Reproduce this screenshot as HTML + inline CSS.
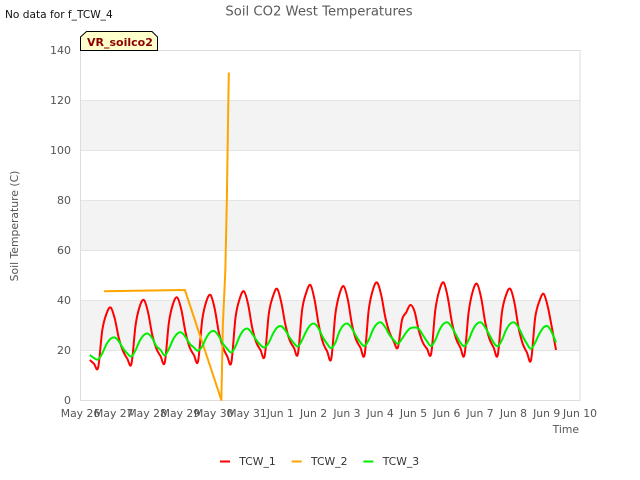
<!DOCTYPE html>
<html>
<head>
<meta charset="utf-8">
<style>
html,body{margin:0;padding:0;background:#fff;}
svg{display:block;font-family:"DejaVu Sans","Liberation Sans",sans-serif;}
</style>
</head>
<body>
<svg id="chart" xmlns="http://www.w3.org/2000/svg" width="640" height="480" viewBox="0 0 640 480">
  <rect width="640" height="480" fill="#ffffff"/>
  <g id="bands"></g>
  <g id="grid"></g>
  <rect x="80.5" y="50.5" width="499.5" height="350" fill="none" stroke="#dddddd" stroke-width="1"/>
  <g id="yticks"></g>
  <g id="xticks"></g>
  <g id="series"></g>
  <text x="319" y="15.5" text-anchor="middle" font-size="13.2px" fill="#5a5a5a">Soil CO2 West Temperatures</text>
  <text x="5" y="18" font-size="10.6px" fill="#111111">No data for f_TCW_4</text>
  <text transform="translate(18 226) rotate(-90)" text-anchor="middle" font-size="10.8px" fill="#555555">Soil Temperature (C)</text>
  <text x="579" y="433" text-anchor="end" font-size="10.8px" fill="#555555">Time</text>
  <g>
    <path d="M80.5 50.5 V37 L86.5 31.5 H152 L157.5 37 V50.5 Z" fill="#ffffcc" stroke="#000000" stroke-width="1"/>
    <text x="87" y="46" font-size="11px" font-weight="bold" fill="#8b0000">VR_soilco2</text>
  </g>
  <g id="legend"></g>
</svg>
<script>
var yTicks = [0, 20, 40, 60, 80, 100, 120, 140];
var xTickLabels = ["May 26","May 27","May 28","May 29","May 30","May 31","Jun 1","Jun 2","Jun 3","Jun 4","Jun 5","Jun 6","Jun 7","Jun 8","Jun 9","Jun 10"];
var bandRanges = [[20, 40], [60, 80], [100, 120]];
var seriesStartDay = 0.28;
var seriesStepDays = 0.125;
var tcw1 = [16,14.5,13,
28,34.5,37,32.5,24.5,19.5,16.5,14.5,
30,37.5,40,35,26,20.5,17.5,15,
31,38.5,41,36,27,21,18,15.5,
32,39.5,42,36.5,27,21,17.5,15,
33,40.5,43.5,38.5,29,23,20,17.5,
34.5,41.5,44.5,39,30,24,21,18.5,
36,43,46,40,30,23,19.5,16.5,
34.5,42.5,45.5,40,30,24,21,18,
36,44,47,42,33,27,23.5,21,
32,35,38,35.5,28,23,20.5,18.5,
36,44,47,41,31,24.5,21,18,
35,43.5,46.5,41,31,24.5,21,18,
35,42,44.5,39,29,22.5,19,16,
33,39.5,42.5,37.5,29,20];
var tcw2Days = [0.705,3.135,4.23,4.275,4.35,4.395,4.44,4.455];
var tcw2 = [43.5,44,0,30,52,80,120,131];
var tcw3 = [18,16.8,16.2,
18.7,22.3,24.5,25,23.4,20.6,18.6,17.4,
20,23.7,26,26.5,24.7,21.5,20,17.8,
20.5,24.2,26.5,27,25.2,22.5,21,19.7,
21.5,25,27.2,27.5,25.5,22.5,20.5,19,
21.5,25.5,28,28.5,26.5,24,22,21,
23,26.5,29,29.5,27.8,25,22.8,21.4,
24,27.5,30,30.5,28.5,25,22.5,20.7,
23,27.5,30,30.5,28.5,25.5,23,21.6,
24,28,30.5,31,29,26,24,22.5,
24.5,27,28.7,29,28.5,26,23.5,21.6,
24,28,30.5,31,29,26,23,21.5,
24,28,30.5,31,29,26,23,21.5,
24,28,30.5,31,29,25.5,22.5,20.5,
23,26.5,29,29.5,27,23];
var legendLabels = ["TCW_1","TCW_2","TCW_3"];
var legendColors = ["#ff0000","#ffa500","#00ee00"];

var NS = "http://www.w3.org/2000/svg";
var plotL = 80.5, plotR = 580, plotT = 50, plotB = 400;
var dayMax = xTickLabels.length - 1;
var valMax = yTicks[yTicks.length - 1];
function xScale(d){ return plotL + (plotR - plotL) * d / dayMax; }
function yScale(v){ return plotB - (plotB - plotT) * v / valMax; }
function make(tag, attrs, parent){
  var el = document.createElementNS(NS, tag);
  for (var k in attrs) el.setAttribute(k, attrs[k]);
  parent.appendChild(el);
  return el;
}
var bandsG = document.getElementById("bands");
bandRanges.forEach(function(r){
  var b = make("rect", {x: plotL, y: yScale(r[1]), width: plotR - plotL, height: yScale(r[0]) - yScale(r[1]), fill: "#f3f3f3"}, bandsG);
  
  
});
var gridG = document.getElementById("grid");
var yG = document.getElementById("yticks");
yTicks.forEach(function(v){
  var y = Math.round(yScale(v)) + 0.5;
  var l = make("line", {x1: plotL, x2: plotR, y1: y, y2: y, stroke: "#e4e4e4", "stroke-width": 1}, gridG);
  
  
  var t = make("text", {x: 71, y: yScale(v) + 4, "text-anchor": "end", "font-size": "11px", fill: "#555555"}, yG);
  
  
  t.textContent = v;
});
var xG = document.getElementById("xticks");
xTickLabels.forEach(function(lbl, i){
  var t = make("text", {x: xScale(i), y: 417, "text-anchor": "middle", "font-size": "10.8px", fill: "#555555"}, xG);
  
  
  t.textContent = lbl;
});
function smoothPath(xs, ys){
  var d = "M" + xs[0].toFixed(2) + " " + ys[0].toFixed(2);
  for (var i = 0; i < xs.length - 1; i++){
    var a = Math.max(i - 1, 0), c = i + 1, e = Math.min(i + 2, xs.length - 1);
    var c1x = xs[i] + (xs[c] - xs[a]) / 6, c1y = ys[i] + (ys[c] - ys[a]) / 6;
    var c2x = xs[c] - (xs[e] - xs[i]) / 6, c2y = ys[c] - (ys[e] - ys[i]) / 6;
    d += "C" + c1x.toFixed(2) + " " + c1y.toFixed(2) + " " + c2x.toFixed(2) + " " + c2y.toFixed(2) + " " + xs[c].toFixed(2) + " " + ys[c].toFixed(2);
  }
  return d;
}
function drawSmooth(vals, color, name, width){
  var xs = vals.map(function(v, i){ return xScale(seriesStartDay + i * seriesStepDays); });
  var ys = vals.map(function(v){ return yScale(v); });
  var p = make("path", {d: smoothPath(xs, ys), fill: "none", stroke: color, "stroke-width": width, "stroke-linejoin": "round"}, document.getElementById("series"));
  
  
}
function drawPoly(days, vals, color, name, width){
  var pts = vals.map(function(v, i){ return xScale(days[i]).toFixed(2) + "," + yScale(v).toFixed(2); }).join(" ");
  var p = make("polyline", {points: pts, fill: "none", stroke: color, "stroke-width": width, "stroke-linejoin": "round"}, document.getElementById("series"));
  
  
}
drawSmooth(tcw1, legendColors[0], "tcw-1-line", 2);
drawPoly(tcw2Days, tcw2, legendColors[1], "tcw-2-line", 2);
drawSmooth(tcw3, legendColors[2], "tcw-3-line", 2);
var legendG = document.getElementById("legend");
legendLabels.forEach(function(lbl, i){
  var x0 = 220 + i * 71.7;
  var s = make("line", {x1: x0, x2: x0 + 10, y1: 461.5, y2: 461.5, stroke: legendColors[i], "stroke-width": 2}, legendG);
  
  
  var t = make("text", {x: x0 + 19.3, y: 465, "font-size": "10.8px", fill: "#333333"}, legendG);
  
  
  t.textContent = lbl;
});
</script>
</body>
</html>
